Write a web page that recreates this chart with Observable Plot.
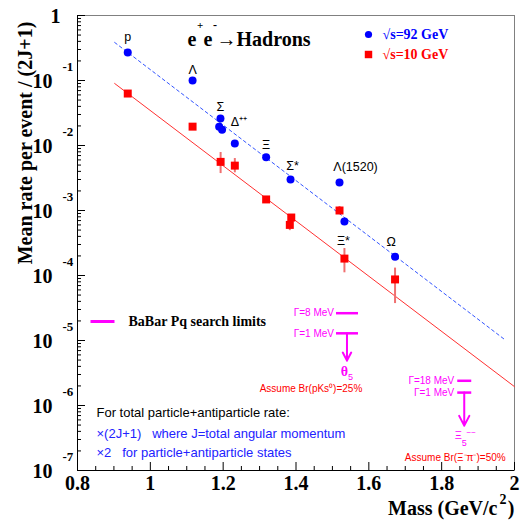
<!DOCTYPE html>
<html><head><meta charset="utf-8">
<script src="https://cdn.jsdelivr.net/npm/d3@7"></script>
<script src="https://cdn.jsdelivr.net/npm/@observablehq/plot@0.6"></script>
<style>body{margin:0;background:#fff}</style>
</head><body><div id="chart"></div>
<script>
// ---- data ----
const massBlue = [0.938, 1.116, 1.1926, 1.189, 1.197, 1.232, 1.318, 1.385, 1.5195, 1.533, 1.672];
const rateBlue = [0.27, 0.10, 0.026, 0.0195, 0.0175, 0.0107, 0.0066, 0.0030, 0.0027, 6.8e-4, 1.95e-4];
const nameBlue = ["p", "Λ", "Σ", "", "", "Δ⁺⁺", "Ξ", "Σ*", "Λ(1520)", "Ξ*", "Ω"];

const massRed = [0.938, 1.116, 1.193, 1.232, 1.318, 1.383, 1.387, 1.5195, 1.533, 1.672];
const rateRed = [0.063, 0.0195, 0.0056, 0.0049, 0.00148, 6.0e-4, 7.8e-4, 1.0e-3, 1.82e-4, 8.7e-5];
const errLoRed = [null, null, 3.7e-3, 3.8e-3, null, 4.9e-4, null, 8.7e-4, 1.1e-4, 3.7e-5];
const errHiRed = [null, null, 7.8e-3, 6.3e-3, null, 8.4e-4, null, 1.15e-3, 2.6e-4, 1.3e-4];

const fitMassBlue = [0.902, 1.973];
const fitRateBlue = [0.385, 1.035e-5];
const fitMassRed = [0.902, 2.0];
const fitRateRed = [0.09, 1.95e-6];

const thetaMass = 1.54;
const thetaWidths = ["Γ=8 MeV", "Γ=1 MeV"];
const thetaLimit = [2.63e-5, 1.29e-5];
const thetaArrowEnd = 4.9e-6;
const xiMass = 1.862;
const xiWidths = ["Γ=18 MeV", "Γ=1 MeV"];
const xiLimit = [2.4e-6, 1.58e-6];
const xiArrowEnd = 4.9e-7;

const xTickValues = [0.8, 1.0, 1.2, 1.4, 1.6, 1.8, 2.0];
const xTickLabels = ["0.8", "1", "1.2", "1.4", "1.6", "1.8", "2"];
const yExponents = [-7, -6, -5, -4, -3, -2, -1];

// ---- layout ----
const W = 530, H = 529, mL = 77, mR = 16, mT = 15, mB = 59;
const fw = W - mL - mR, fh = H - mT - mB;
const serif = "Liberation Serif, Times New Roman, serif";
const sans = "Liberation Sans, Arial, Helvetica, sans-serif";
const BLUE = "#0000ff", RED = "#ff0000", MAG = "#ff00ff";

const bluePts = massBlue.map((m, i) => ({mass: m, rate: rateBlue[i], name: nameBlue[i]}));
const redPts = massRed.map((m, i) => ({mass: m, rate: rateRed[i], lo: errLoRed[i], hi: errHiRed[i]}));
const blueFit = fitMassBlue.map((m, i) => ({mass: m, rate: fitRateBlue[i]}));
const redFit = fitMassRed.map((m, i) => ({mass: m, rate: fitRateRed[i]}));
const thetaPts = thetaWidths.map((w, i) => ({mass: thetaMass, rate: thetaLimit[i], label: w}));
const xiPts = xiWidths.map((w, i) => ({mass: xiMass, rate: xiLimit[i], label: w}));
const thetaArrow = [{mass: thetaMass, from: thetaLimit[1], to: thetaArrowEnd}];
const xiArrow = [{mass: xiMass, from: xiLimit[1], to: xiArrowEnd}];

const majorY = [0, ...yExponents.slice().reverse()].map(k => 10 ** k);
const minorY = [];
for (const k of yExponents) for (let m = 2; m <= 9; m++) minorY.push(m * 10 ** k);
const minorX = d3.range(16, 41).map(i => i / 20).filter(v => !xTickValues.some(t => Math.abs(t - v) < 1e-9));

const hline = {draw(ctx, size) { const h = Math.sqrt(size / Math.PI); ctx.moveTo(-h, 0); ctx.lineTo(h, 0); }};

// particle label offsets (px)
const labelOffsets = {"p": [0, -15], "Λ": [0, -11], "Σ": [0, -12], "Δ⁺⁺": [-4, -22, "start"], "Ξ": [0, -12],
  "Σ*": [2, -13], "Λ(1520)": [16, -15], "Ξ*": [-1, 20], "Ω": [-4, -15]};
const labelMarks = bluePts.filter(d => d.name).map(d => {
  const o = labelOffsets[d.name];
  return Plot.text([d], {x: "mass", y: "rate", text: "name", dx: o[0], dy: o[1], textAnchor: o[2] || "middle",
    fontFamily: sans, fontSize: 12.5, fill: "black"});
});

const fa = (anchor, text, dx, dy, opts = {}) => Plot.text([text], {text: d => d, frameAnchor: anchor, dx, dy,
  textAnchor: "start", lineAnchor: "middle", ...opts});
const tl = (text, dx, dy, opts = {}) => fa("top-left", text, dx, dy, opts);

const chart = Plot.plot({
  width: W, height: H, marginLeft: mL, marginRight: mR, marginTop: mT, marginBottom: mB,
  style: {background: "white", overflow: "visible"},
  x: {domain: [0.8, 2], axis: null},
  y: {type: "log", domain: [1e-7, 1], axis: null},
  marks: [
    Plot.frame({stroke: "#808080"}),
    Plot.ruleX([0.8], {stroke: "black"}),
    Plot.ruleY([1e-7], {stroke: "black"}),
    // ticks
    Plot.tickY(majorY, {y: d => d, insetRight: fw - 8, stroke: "black"}),
    Plot.tickY(minorY, {y: d => d, insetRight: fw - 4, stroke: "black"}),
    Plot.tickX(xTickValues, {x: d => d, insetTop: fh - 8, stroke: "black"}),
    Plot.tickX(minorX, {x: d => d, insetTop: fh - 4, stroke: "black"}),
    // tick labels
    Plot.text(yExponents, {y: d => 10 ** d, text: () => "10", frameAnchor: "left", textAnchor: "end", lineAnchor: "middle", dx: -25, dy: 1,
      fontFamily: serif, fontWeight: "bold", fontSize: 20}),
    Plot.text(yExponents, {y: d => 10 ** d, text: d => String(d), frameAnchor: "left", textAnchor: "start", lineAnchor: "middle", dx: -15, dy: -14,
      fontFamily: serif, fontWeight: "bold", fontSize: 13}),
    Plot.text([1], {y: d => d, text: () => "1", frameAnchor: "left", textAnchor: "end", lineAnchor: "middle", dx: -17, dy: 1,
      fontFamily: serif, fontWeight: "bold", fontSize: 20}),
    Plot.text(xTickValues, {x: d => d, text: (d, i) => xTickLabels[i], frameAnchor: "bottom", textAnchor: "middle", lineAnchor: "middle", dy: 13,
      fontFamily: serif, fontWeight: "bold", fontSize: 20}),
    // axis titles
    Plot.text(["Mean rate per event / (2J+1)"], {text: d => d, frameAnchor: "left", textAnchor: "middle", lineAnchor: "middle",
      rotate: -90, dx: -52, dy: -100, fontFamily: serif, fontWeight: "bold", fontSize: 20}),
    fa("bottom-right", ")", 0, 38, {textAnchor: "end", fontFamily: serif, fontWeight: "bold", fontSize: 20}),
    fa("bottom-right", "2", -8, 29, {textAnchor: "end", fontFamily: serif, fontWeight: "bold", fontSize: 14}),
    fa("bottom-right", "Mass (GeV/c", -17, 38, {textAnchor: "end", fontFamily: serif, fontWeight: "bold", fontSize: 20}),
    // title
    tl("e", 110, 24, {fontFamily: serif, fontWeight: "bold", fontSize: 20}),
    tl("+", 119.5, 10, {fontFamily: serif, fontWeight: "bold", fontSize: 11}),
    tl("e", 126, 24, {fontFamily: serif, fontWeight: "bold", fontSize: 20}),
    tl("-", 135.5, 10, {fontFamily: serif, fontWeight: "bold", fontSize: 12}),
    tl("→Hadrons", 139, 24, {fontFamily: serif, fontWeight: "bold", fontSize: 20}),
    // legend
    Plot.dot([0], {frameAnchor: "top-left", dx: 291, dy: 19, r: 3.6, fill: BLUE}),
    Plot.dot([0], {frameAnchor: "top-left", dx: 291, dy: 39, r: 4.2, symbol: "square", fill: RED}),
    tl("√s=92 GeV", 305, 19, {fontFamily: serif, fontWeight: "bold", fontSize: 14, fill: BLUE}),
    tl("√s=10 GeV", 305, 39, {fontFamily: serif, fontWeight: "bold", fontSize: 14, fill: RED}),
    // fits
    Plot.line(blueFit, {x: "mass", y: "rate", stroke: "#3355ff", strokeWidth: 1, strokeDasharray: "3,3"}),
    Plot.line(redFit, {x: "mass", y: "rate", stroke: "#ff3030", strokeWidth: 1}),
    // data
    Plot.ruleX(redPts.filter(d => d.lo), {x: "mass", y1: "lo", y2: "hi", stroke: "#f07070", strokeWidth: 2}),
    Plot.dot(bluePts, {x: "mass", y: "rate", r: 4, fill: BLUE}),
    Plot.dot(redPts, {x: "mass", y: "rate", r: 4.5, symbol: "square", fill: RED}),
    ...labelMarks,
    // BaBar legend
    Plot.dot([0], {frameAnchor: "top-left", dx: 25, dy: 306, r: 12, symbol: hline, stroke: MAG, strokeWidth: 3}),
    tl("BaBar Pq search limits", 51, 306, {fontFamily: serif, fontWeight: "bold", fontSize: 14}),
    // Theta5 limits
    Plot.dot(thetaPts, {x: "mass", y: "rate", r: 11, symbol: hline, stroke: MAG, strokeWidth: 2.5}),
    Plot.text(thetaPts, {x: "mass", y: "rate", text: "label", textAnchor: "end", dx: -13, fill: MAG, fontFamily: sans, fontSize: 10}),
    Plot.arrow(thetaArrow, {x1: "mass", y1: "from", x2: "mass", y2: "to", stroke: MAG, strokeWidth: 2, headLength: 12, headAngle: 55}),
    Plot.text(thetaArrow, {x: "mass", y: "to", text: () => "θ", textAnchor: "end", dx: 1, dy: 11, fill: MAG, fontFamily: serif, fontWeight: "bold", fontSize: 14}),
    Plot.text(thetaArrow, {x: "mass", y: "to", text: () => "5", textAnchor: "start", dx: 1, dy: 16, fill: MAG, fontFamily: sans, fontSize: 9}),
    Plot.text(thetaArrow, {x: "mass", y: "to", text: () => "Assume Br(pKs⁰)=25%", dx: -36, dy: 28, fill: RED, fontFamily: sans, fontSize: 10}),
    // Xi5 limits
    Plot.dot(xiPts, {x: "mass", y: "rate", r: 7, symbol: hline, stroke: MAG, strokeWidth: 2.5}),
    Plot.text(xiPts, {x: "mass", y: "rate", text: "label", textAnchor: "end", dx: -10, fill: MAG, fontFamily: sans, fontSize: 10}),
    Plot.arrow(xiArrow, {x1: "mass", y1: "from", x2: "mass", y2: "to", stroke: MAG, strokeWidth: 2, headLength: 12, headAngle: 55}),
    Plot.text(xiArrow, {x: "mass", y: "to", text: () => "Ξ", dx: -6, dy: 10, fill: MAG, fontFamily: sans, fontSize: 11}),
    Plot.text(xiArrow, {x: "mass", y: "to", text: () => "5", dx: 0, dy: 17, fill: MAG, fontFamily: sans, fontSize: 9}),
    Plot.text(xiArrow, {x: "mass", y: "to", text: () => "−−", dx: 7, dy: 7, fill: MAG, fontFamily: sans, fontSize: 8}),
    Plot.text(xiArrow, {x: "mass", y: "to", text: () => "Assume Br(Ξ⁻π⁻)=50%", dx: -9, dy: 32, fill: RED, fontFamily: sans, fontSize: 10}),
    // notes
    fa("bottom-left", "For total particle+antiparticle rate:", 19, -58, {fontFamily: sans, fontSize: 13, fill: "black"}),
    fa("bottom-left", "×(2J+1)\u00a0\u00a0 where J=total angular momentum", 19, -37, {fontFamily: sans, fontSize: 13, fill: "#2222ff"}),
    fa("bottom-left", "×2\u00a0\u00a0 for particle+antiparticle states", 19, -18, {fontFamily: sans, fontSize: 13, fill: "#2222ff"})
  ]
});
document.getElementById("chart").appendChild(chart);
</script></body></html>
